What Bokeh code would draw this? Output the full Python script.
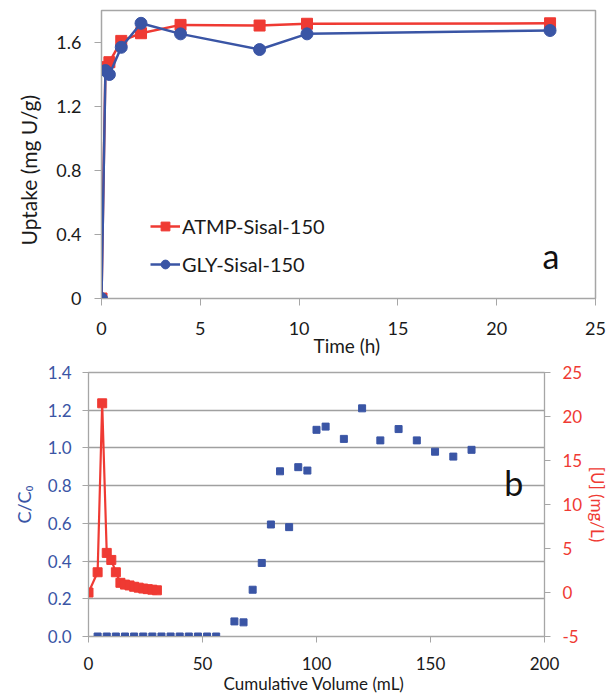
import math
from bokeh.plotting import figure
from bokeh.models import Range1d, LinearAxis, FixedTicker, Label, Legend, LegendItem, Title
from bokeh.embed import file_html
from bokeh.resources import INLINE

# ---------------- data: panel a ----------------
time_h = [0, 0.2, 0.4, 1, 2, 4, 8, 10.4, 22.7]
atmp_uptake = [0, 1.446, 1.477, 1.61, 1.658, 1.71, 1.706, 1.717, 1.72]
gly_uptake = [0, 1.425, 1.40, 1.57, 1.72, 1.654, 1.556, 1.654, 1.675]
a_xticks = [0, 5, 10, 15, 20, 25]
a_xlabels = ["0", "5", "10", "15", "20", "25"]
a_yticks = [0, 0.4, 0.8, 1.2, 1.6]
a_ylabels = ["0", "0.4", "0.8", "1.2", "1.6"]

# ---------------- data: panel b ----------------
blue_vol = [4, 8, 12, 16, 20, 24, 28, 32, 36, 40, 44, 48, 52, 56,
            64, 68, 72, 76, 80, 84, 88, 92, 96, 100, 104, 112, 120,
            128, 136, 144, 152, 160, 168]
c_over_c0 = [0, 0, 0, 0, 0, 0, 0, 0, 0, 0, 0, 0, 0, 0,
             0.08, 0.075, 0.248, 0.39, 0.594, 0.876, 0.58, 0.898, 0.88,
             1.096, 1.113, 1.048, 1.21, 1.04, 1.10, 1.04, 0.98, 0.954, 0.99]
red_vol = [0, 4, 6, 8, 10, 12, 14, 16, 18, 20, 22, 24, 26, 28, 30]
u_conc = [0, 2.3, 21.5, 4.5, 3.7, 2.3, 1.1, 0.9, 0.8, 0.65, 0.55, 0.45, 0.38, 0.32, 0.25]
b_xticks = [0, 50, 100, 150, 200]
b_xlabels = ["0", "50", "100", "150", "200"]
b_yticks = [0, 0.2, 0.4, 0.6, 0.8, 1.0, 1.2, 1.4]
b_ylabels = ["0.0", "0.2", "0.4", "0.6", "0.8", "1.0", "1.2", "1.4"]
b_y2ticks = [-5, 0, 5, 10, 15, 20, 25]
b_y2labels = ["-5", "0", "5", "10", "15", "20", "25"]

RED = "#EF3A33"
BLUE = "#3A55A5"
GRAY = "#A6A6A6"
INK = "#1a1a1a"
FONT = "Lato"


def style_axis(ax, ticks, labels, size, color, tick_out, standoff):
    ax.ticker = FixedTicker(ticks=ticks)
    ax.major_label_overrides = {t: l for t, l in zip(ticks, labels)}
    ax.axis_line_color = GRAY
    ax.major_tick_line_color = GRAY
    ax.minor_tick_line_color = None
    ax.major_tick_in = 0
    ax.major_tick_out = tick_out
    ax.major_label_standoff = standoff
    ax.major_label_text_font = FONT
    ax.major_label_text_font_size = size
    ax.major_label_text_color = color
    ax.axis_label_text_font = FONT
    ax.axis_label_text_font_style = "normal"


def side_title(text, size, color, **kw):
    return Title(text=text, text_font=FONT, text_font_size=size,
                 text_font_style="normal", text_color=color, **kw)


# ---------------- panel a ----------------
p1 = figure(width=608, height=361, x_range=Range1d(0, 25), y_range=Range1d(0, 1.8),
            output_backend="svg", toolbar_location=None,
            min_border_left=97, min_border_right=13, min_border_top=10, min_border_bottom=63)
p1.grid.visible = False
p1.outline_line_color = GRAY
p1.outline_line_width = 1.5

r1l = p1.line(time_h, atmp_uptake, line_color=RED, line_width=2.5)
r1s = p1.scatter(time_h, atmp_uptake, marker="square", size=11, fill_color=RED, line_color=RED)
r2l = p1.line(time_h, gly_uptake, line_color=BLUE, line_width=2.5)
r2s = p1.scatter(time_h, gly_uptake, marker="circle", size=12, fill_color=BLUE, line_color=BLUE)

style_axis(p1.xaxis[0], a_xticks, a_xlabels, "18px", INK, 7, 16)
style_axis(p1.yaxis[0], a_yticks, a_ylabels, "18px", INK, 7, 13)

p1.add_layout(side_title("Time (h)", "19px", INK, align="left", offset=212,
                         vertical_align="top", standoff=-7), "below")
p1.add_layout(side_title("Uptake (mg U/g)", "21px", INK, align="left", offset=53,
                         vertical_align="bottom", standoff=26), "left")

legend = Legend(items=[LegendItem(label="ATMP-Sisal-150", renderers=[r1l, r1s]),
                       LegendItem(label="GLY-Sisal-150", renderers=[r2l, r2s])],
                location=(49, 22), glyph_width=30, glyph_height=22, label_height=22,
                label_standoff=2, spacing=14, padding=0, margin=0,
                border_line_alpha=0, background_fill_alpha=0,
                label_text_font=FONT, label_text_font_size="20px", label_text_color=INK)
p1.add_layout(legend)
p1.add_layout(Label(x=22.74, y=0.27, text="a", text_font=FONT, text_font_size="34px",
                    text_align="center", text_baseline="alphabetic", text_color="#111111"))

# ---------------- panel b ----------------
p2 = figure(width=608, height=336, x_range=Range1d(0, 200), y_range=Range1d(0, 1.4),
            output_backend="svg", toolbar_location=None,
            min_border_left=88, min_border_right=60, min_border_top=11, min_border_bottom=61)
p2.extra_y_ranges = {"u": Range1d(-5, 25)}
p2.xgrid.visible = False
p2.ygrid.ticker = FixedTicker(ticks=b_yticks)
p2.ygrid.grid_line_color = "#A0A0A0"
p2.ygrid.grid_line_width = 1.3
p2.outline_line_color = GRAY
p2.outline_line_width = 1.3

p2.scatter(blue_vol, c_over_c0, marker="square", size=7, fill_color=BLUE, line_color=BLUE)
p2.line(red_vol, u_conc, y_range_name="u", line_color=RED, line_width=2.2)
p2.scatter(red_vol, u_conc, y_range_name="u", marker="square", size=9, fill_color=RED, line_color=RED)

style_axis(p2.xaxis[0], b_xticks, b_xlabels, "17px", INK, 6, 14)
style_axis(p2.yaxis[0], b_yticks, b_ylabels, "17px", BLUE, 6, 11)
p2.yaxis[0].axis_label = "C/C\u2080"
p2.yaxis[0].axis_label_text_font_size = "18px"
p2.yaxis[0].axis_label_text_color = BLUE
p2.yaxis[0].axis_label_standoff = 10

y2 = LinearAxis(y_range_name="u")
style_axis(y2, b_y2ticks, b_y2labels, "17px", RED, 6, 12)
p2.add_layout(y2, "right")

p2.add_layout(side_title("Cumulative Volume (mL)", "17px", INK, align="left", offset=135,
                         vertical_align="top", standoff=0), "below")
p2.add_layout(side_title("[U] (mg/L)", "17px", RED, align="center",
                         vertical_align="middle", standoff=0), "right")

p2.add_layout(Label(x=186.5, y=0.817, text="b", text_font=FONT, text_font_size="34px",
                    text_align="center", text_baseline="alphabetic", text_color="#111111"))

open("out.html", "w").write(file_html([p1, p2], INLINE))
